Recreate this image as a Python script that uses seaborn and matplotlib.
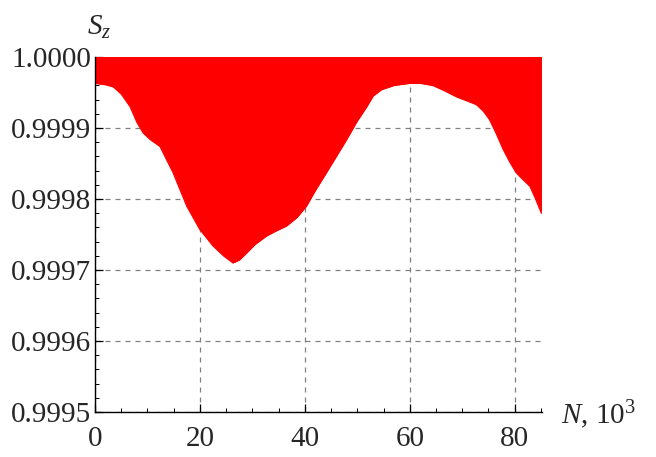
import numpy as np
import pandas as pd
import matplotlib
matplotlib.use("Agg")
import matplotlib.pyplot as plt
from matplotlib.ticker import FixedLocator, MultipleLocator, FixedFormatter
import seaborn as sns

# Data: lower envelope of the fast oscillation of S_z vs N (in 10^3)
N_k = [0, 2, 3.5, 5, 6.7, 8, 9.2, 10.5, 12.4, 14.9, 17.5, 20, 22.5, 24.5, 26.3,
       27.5, 28.9, 30.5, 32.7, 34.5, 36.5, 38.5, 40.3, 42, 44.1, 46, 47.9, 50,
       51.8, 53, 54.6, 57, 60, 62, 64.4, 66.5, 68.9, 71, 72.7, 74, 75.2, 76.5,
       77.8, 79, 80.3, 81.5, 82.9, 84, 85.1]
Sz_lower = [0.999963, 0.999961, 0.999958, 0.999948, 0.999930, 0.999908, 0.999893,
            0.999884, 0.999874, 0.999837, 0.999790, 0.999757, 0.999734, 0.999720,
            0.999710, 0.999714, 0.999724, 0.999736, 0.999748, 0.999755, 0.999762,
            0.999774, 0.999790, 0.999812, 0.999837, 0.999860, 0.999883, 0.999910,
            0.999930, 0.999945, 0.999954, 0.999960, 0.999963, 0.999963, 0.999960,
            0.999953, 0.999944, 0.999938, 0.999933, 0.999924, 0.999912, 0.999892,
            0.999870, 0.999853, 0.999837, 0.999828, 0.999818, 0.999800, 0.999780]
Sz_upper = [1.0000] * len(N_k)

x_ticks = [0, 20, 40, 60, 80]
x_ticklabels = ["0", "20", "40", "60", "80"]
y_ticks = [0.9995, 0.9996, 0.9997, 0.9998, 0.9999, 1.0000]
y_ticklabels = ["0.9995", "0.9996", "0.9997", "0.9998", "0.9999", "1.0000"]

df = pd.DataFrame({"N": N_k, "low": Sz_lower, "high": Sz_upper})

sns.set_style("ticks")
plt.rcParams["font.family"] = ["Liberation Serif", "DejaVu Serif"]
plt.rcParams["mathtext.fontset"] = "custom"
plt.rcParams["mathtext.rm"] = "Liberation Serif"
plt.rcParams["mathtext.it"] = "Liberation Serif:italic"

fig = plt.figure(figsize=(6.56, 4.57), dpi=100)
ax = fig.add_axes([95 / 656, 45 / 457, (542 - 95) / 656, (412 - 57) / 457])

ax.fill_between(df["N"], df["low"], df["high"], color="#ff0000", lw=0, zorder=2)
sns.lineplot(data=df, x="N", y="low", color="#ff0000", lw=1.0, ax=ax, zorder=3)
sns.lineplot(data=df, x="N", y="high", color="#ff0000", lw=1.0, ax=ax, zorder=3)

ax.set_xlim(0, 85.2)
ax.set_ylim(0.9995, 1.0000)

ax.xaxis.set_major_locator(FixedLocator(x_ticks))
ax.xaxis.set_major_formatter(FixedFormatter(x_ticklabels))
ax.xaxis.set_minor_locator(MultipleLocator(5))
ax.yaxis.set_major_locator(FixedLocator(y_ticks))
ax.yaxis.set_major_formatter(FixedFormatter(y_ticklabels))
ax.yaxis.set_minor_locator(MultipleLocator(0.00002))

ax.grid(True, which="major", color="#808080", ls=(0, (4, 4)), lw=0.9, zorder=1)

for s in ["top", "right"]:
    ax.spines[s].set_visible(False)
for s in ["left", "bottom"]:
    ax.spines[s].set_color("black")
    ax.spines[s].set_linewidth(1.0)
    ax.spines[s].set_zorder(5)

ax.tick_params(which="major", direction="in", length=6, width=0.9, color="black",
               labelsize=21)
ax.tick_params(which="minor", direction="in", length=3, width=0.7, color="black")
ax.tick_params(axis="x", which="major", pad=10)
ax.tick_params(axis="y", which="major", pad=3)
for lbl in ax.get_xticklabels() + ax.get_yticklabels():
    lbl.set_fontfamily("Liberation Serif")

ax.set_xlabel("")
ax.set_ylabel("")

fig.text(87 / 656, 1 - 27 / 457, r"$S_z$", fontsize=21, ha="left", va="center")
fig.text(561 / 656, 1 - 415 / 457, r"$N$, 10$^3$", fontsize=21, ha="left", va="center",
         family="Liberation Serif")

fig.savefig("out.png", dpi=100)
